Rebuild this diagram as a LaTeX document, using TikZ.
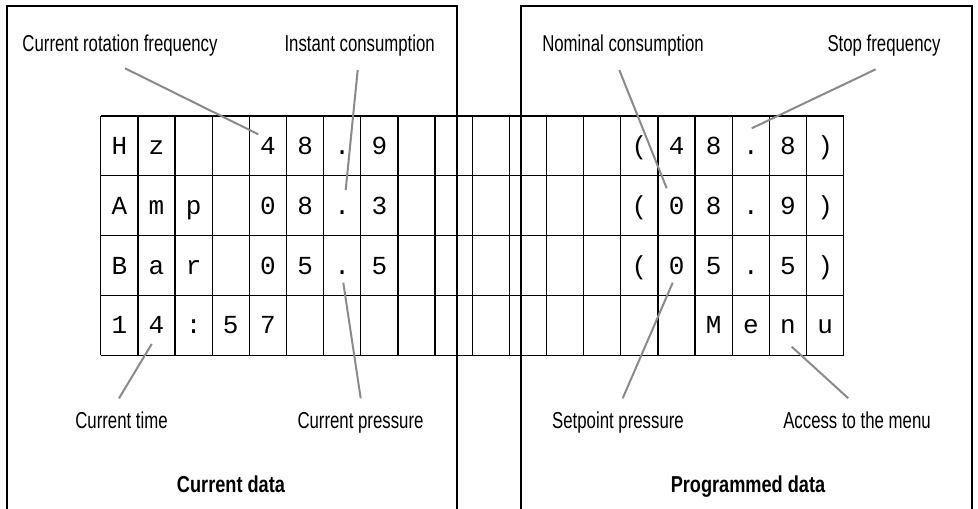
\documentclass[tikz,border=0pt]{standalone}
\usepackage{fontspec}
\setmainfont{Liberation Sans}[FakeStretch=0.73, BoldFeatures={FakeStretch=0.79}]
\newfontfamily\lcdfont{Liberation Mono}

\definecolor{leadgray}{HTML}{8A8A8A}

\tikzset{
	panel/.style={line width=2.4pt},
	cellline/.style={line width=1.3pt},
	lcd/.style={font=\lcdfont\fontsize{26}{26}\selectfont, inner sep=0pt, anchor=base},
	callout/.style={font=\fontsize{23}{23}\selectfont, anchor=base, inner sep=0pt},
	paneltitle/.style={font=\bfseries\fontsize{23}{23}\selectfont, anchor=base, inner sep=0pt},
	leader/.style={leadgray, line width=2pt}
}

\begin{document}
\begin{tikzpicture}[x=1pt,y=-1pt]
		\useasboundingbox (0,0) rectangle (978,509);
		
		% the two panels
		\draw[panel] (7,509) -- (7,6) -- (457,6) -- (457,509);
		\draw[panel] (521,509) -- (521,6) -- (972,6) -- (972,509);
		
		% display grid, 20 x 4
		\foreach \k in {0,...,20}
			\draw[cellline] (100.7+37.15*\k,116) -- (100.7+37.15*\k,355.2);
		\foreach \r in {0,...,4}
			\draw[cellline] (100.7,116+59.8*\r) -- (843.7,116+59.8*\r);
		
		\foreach \k/\ch in {0/H,1/z,4/4,5/8,6/.,7/9,14/(,15/4,16/8,17/.,18/8,19/)}
			\node[lcd] (hz\k) at (119.3+37.15*\k,154.5) {\ch};
		\foreach \k/\ch in {0/A,1/m,2/p,4/0,5/8,6/.,7/3,14/(,15/0,16/8,17/.,18/9,19/)}
			\node[lcd] (amp\k) at (119.3+37.15*\k,214.3) {\ch};
		\foreach \k/\ch in {0/B,1/a,2/r,4/0,5/5,6/.,7/5,14/(,15/0,16/5,17/.,18/5,19/)}
			\node[lcd] (bar\k) at (119.3+37.15*\k,274.1) {\ch};
		\foreach \k/\ch in {0/1,1/4,2/:,3/5,4/7,16/M,17/e,18/n,19/u}
			\node[lcd] (time\k) at (119.3+37.15*\k,333.9) {\ch};
		
		% callouts
		\node[callout] (rotlab) at (120,51.7) {Current rotation frequency};
		\node[callout] (instlab) at (359.7,51.7) {Instant consumption};
		\node[callout] (nomlab) at (623,51.7) {Nominal consumption};
		\node[callout] (stoplab) at (884,51.7) {Stop frequency};
		\node[callout] (timelab) at (121.5,428) {Current time};
		\node[callout] (preslab) at (360.5,428) {Current pressure};
		\node[callout] (setlab) at (618,428) {Setpoint pressure};
		\node[callout] (menulab) at (857,428) {Access to the menu};
		
		\node[paneltitle] (curtitle) at (231,492) {Current data};
		\node[paneltitle] (progtitle) at (748,492) {Programmed data};
		
		% leader lines
		\coordinate (rot-a) at (125,68.3);
		\coordinate (rot-b) at (258.3,134.3);
		\coordinate (inst-a) at (357.7,70);
		\coordinate (inst-b) at (345.7,190);
		\coordinate (nom-a) at (619.3,70);
		\coordinate (nom-b) at (666.7,188.3);
		\coordinate (stop-a) at (875.7,69.3);
		\coordinate (stop-b) at (751.7,128.3);
		\coordinate (time-a) at (119,398.3);
		\coordinate (time-b) at (151.7,344);
		\coordinate (pres-a) at (360.7,398.3);
		\coordinate (pres-b) at (343.3,282.7);
		\coordinate (set-a) at (622.7,398.3);
		\coordinate (set-b) at (672.7,282.7);
		\coordinate (menu-a) at (848.3,398.3);
		\coordinate (menu-b) at (791.7,346.7);
		
		\draw[leader] (rot-a) -- (rot-b);
		\draw[leader] (inst-a) -- (inst-b);
		\draw[leader] (nom-a) -- (nom-b);
		\draw[leader] (stop-a) -- (stop-b);
		\draw[leader] (time-a) -- (time-b);
		\draw[leader] (pres-a) -- (pres-b);
		\draw[leader] (set-a) -- (set-b);
		\draw[leader] (menu-a) -- (menu-b);
\end{tikzpicture}
\end{document}
